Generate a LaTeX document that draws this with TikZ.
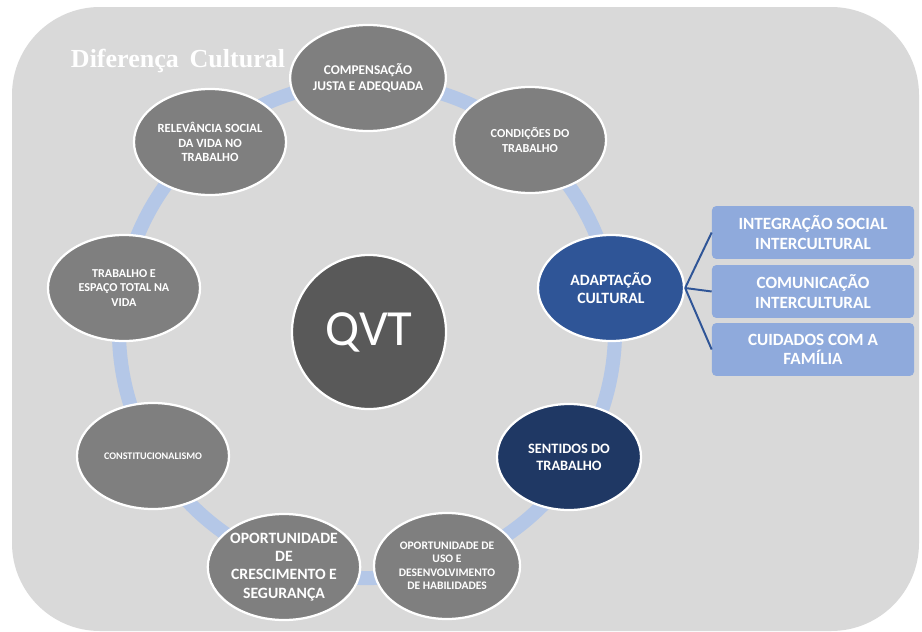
\documentclass[tikz,border=0pt]{standalone}
\usepackage{fontspec}
\setmainfont{Carlito}
\newfontfamily\titlefont{Liberation Serif}
\usetikzlibrary{shapes.geometric}

\definecolor{bggray}{HTML}{D9D9D9}
\definecolor{ringblue}{HTML}{B4C7E7}
\definecolor{nodegray}{HTML}{7F7F7F}
\definecolor{qvtgray}{HTML}{595959}
\definecolor{midblue}{HTML}{2F5597}
\definecolor{darkblue}{HTML}{1F3864}
\definecolor{boxblue}{HTML}{8FAADC}

\tikzset{
  ringnode/.style={ellipse, draw=white, line width=1.6pt, fill=nodegray, text=white, align=center, inner sep=0pt, minimum width=3.8cm, minimum height=2.65cm},
  listbox/.style={rectangle, rounded corners=3pt, fill=boxblue, text=white, align=center, inner sep=0pt, minimum width=5.05cm, minimum height=1.32cm, font=\bfseries\fontsize{12.2}{14}\selectfont},
  branch/.style={draw=midblue, line width=1.4pt}
}

\begin{document}
\begin{tikzpicture}[x=0.025cm, y=-0.025cm]

\useasboundingbox (0,0) rectangle (922,632);
\fill[white] (0,0) rectangle (922,632);
\fill[bggray, rounded corners=2.2cm] (12,7) rectangle (919,631);

\draw[ringblue, line width=10pt] (367,330) circle (6.2cm);

\node[anchor=west, text=white, font=\titlefont\bfseries\fontsize{18.5}{20}\selectfont] (title) at (66,61) {Diferença\, Cultural};

\node[circle, draw=white, line width=1.6pt, fill=qvtgray, text=white, minimum size=3.85cm, font=\fontsize{36}{40}\selectfont] (qvt) at (369,332) {QVT};

\node[ringnode, font=\bfseries\fontsize{9.5}{11}\selectfont] (comp) at (368,78) {COMPENSAÇÃO\\JUSTA E ADEQUADA};
\node[ringnode, font=\bfseries\fontsize{8.7}{10.2}\selectfont] (cond) at (530,140) {CONDIÇÕES DO\\TRABALHO};
\node[ringnode, fill=midblue, minimum width=3.65cm, font=\bfseries\fontsize{11.2}{12.8}\selectfont] (adapt) at (611,288) {ADAPTAÇÃO\\CULTURAL};
\node[ringnode, fill=darkblue, minimum width=3.6cm, font=\bfseries\fontsize{10.2}{12}\selectfont] (sent) at (569,457) {SENTIDOS DO\\TRABALHO};
\node[ringnode, minimum width=3.65cm, font=\bfseries\fontsize{8.2}{9.6}\selectfont] (uso) at (447,566) {OPORTUNIDADE DE\\USO E\\DESENVOLVIMENTO\\DE HABILIDADES};
\node[ringnode, font=\bfseries\fontsize{11.2}{13}\selectfont] (cresc) at (284,567) {OPORTUNIDADE\\DE\\CRESCIMENTO E\\SEGURANÇA};
\node[ringnode, font=\bfseries\fontsize{7.2}{8}\selectfont] (const) at (153,456) {CONSTITUCIONALISMO};
\node[ringnode, font=\bfseries\fontsize{8.6}{10}\selectfont] (trab) at (124,288) {TRABALHO E\\ESPAÇO TOTAL NA\\VIDA};
\node[ringnode, font=\bfseries\fontsize{8.9}{10.3}\selectfont] (relev) at (210,142) {RELEVÂNCIA SOCIAL\\DA VIDA NO\\TRABALHO};

\node[listbox] (integ) at (813,232.5) {INTEGRAÇÃO SOCIAL\\INTERCULTURAL};
\node[listbox] (comun) at (813,291.5) {COMUNICAÇÃO\\INTERCULTURAL};
\node[listbox] (cuid) at (813,349.5) {CUIDADOS COM A\\FAMÍLIA};

\draw[branch] (adapt.east) -- (integ.west);
\draw[branch] (adapt.east) -- (comun.west);
\draw[branch] (adapt.east) -- (cuid.west);

\end{tikzpicture}
\end{document}
